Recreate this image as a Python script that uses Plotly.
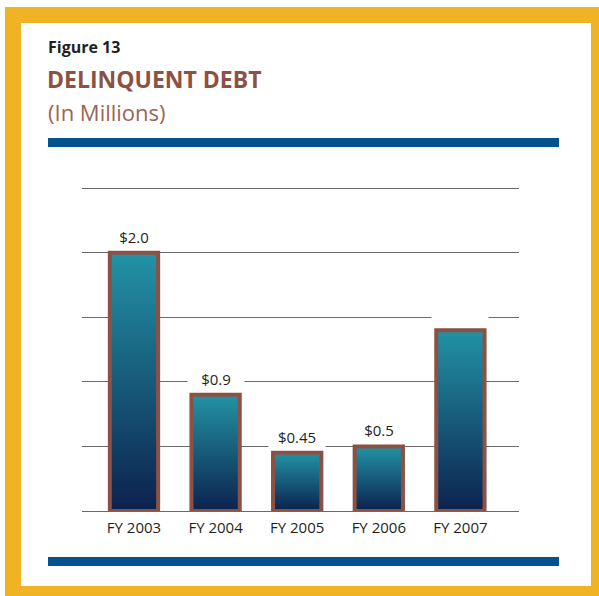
import plotly.graph_objects as go

# ---- data ----
categories = ["FY 2003", "FY 2004", "FY 2005", "FY 2006", "FY 2007"]
values = [2.0, 0.9, 0.45, 0.5, 1.4]
value_labels = ["$2.0", "$0.9", "$0.45", "$0.5", ""]
y_ticks = [0, 0.5, 1.0, 1.5, 2.0, 2.5]

# ---- layout geometry (pixels) ----
W, H = 599, 596
L, R, T, B = 82, 80, 187, 85
PW, PH = W - L - R, H - T - B
Y_TOP = 2.508


def px(x):
    return (x - L) / PW


def py(y):
    return (H - B - y) / PH


TOP_C = (35, 146, 165)
BOT_C = (12, 35, 79)
N = 60

fig = go.Figure()
xpos = list(range(len(categories)))
bar_w = 0.592

# gradient fill: overlapping bars from bottom to top, each covering [v*i/N, v]
for i in range(N):
    t = i / (N - 1)
    c = tuple(round(BOT_C[k] + (TOP_C[k] - BOT_C[k]) * t) for k in range(3))
    fig.add_trace(go.Bar(
        x=xpos,
        y=[v * (1 - i / N) for v in values],
        base=[v * i / N for v in values],
        width=bar_w,
        marker=dict(color="rgb(%d,%d,%d)" % c, line=dict(width=0)),
        hoverinfo="skip", showlegend=False,
    ))

# outline
fig.add_trace(go.Bar(
    x=xpos, y=values, width=bar_w,
    marker=dict(color="rgba(0,0,0,0)", line=dict(color="#8B5244", width=4)),
    showlegend=False,
))

# value labels with white background
for xi, v, lab in zip(xpos, values, value_labels):
    fig.add_annotation(
        x=xi, y=v, xref="x", yref="y",
        text=lab if lab else "&nbsp;",
        showarrow=False, yanchor="bottom", yshift=4,
        width=54, bgcolor="white",
        font=dict(family="Open Sans", size=15, color="#231f20"),
    )

shapes = []
# yellow frame
shapes.append(dict(type="rect", xref="paper", yref="paper",
                   x0=px(5), x1=px(605), y0=py(602), y1=py(7),
                   fillcolor="#F0B323", line=dict(width=0), layer="below"))
shapes.append(dict(type="rect", xref="paper", yref="paper",
                   x0=px(21), x1=px(591), y0=py(586), y1=py(23),
                   fillcolor="white", line=dict(width=0), layer="below"))
# blue rules
for y0, y1 in [(138, 147), (557, 566)]:
    shapes.append(dict(type="rect", xref="paper", yref="paper",
                       x0=px(48), x1=px(559), y0=py(y1), y1=py(y0),
                       fillcolor="#04538F", line=dict(width=0), layer="below"))

annotations_title = [
    dict(text="<b>Figure 13</b>", x=px(46), y=py(47), size=16, color="#231f20"),
    dict(text="<b>DELINQUENT DEBT</b>", x=px(45), y=py(79), size=23, color="#8B5244"),
    dict(text="(In Millions)", x=px(46), y=py(112), size=22, color="#9A6656"),
]
for a in annotations_title:
    fig.add_annotation(text=a["text"], x=a["x"], y=a["y"], xref="paper", yref="paper",
                       xanchor="left", yanchor="middle", showarrow=False,
                       font=dict(family="Open Sans", size=a["size"], color=a["color"]))

fig.update_layout(
    width=W, height=H,
    margin=dict(l=L, r=R, t=T, b=B, pad=0),
    paper_bgcolor="white", plot_bgcolor="rgba(0,0,0,0)",
    barmode="overlay", shapes=shapes,
    xaxis=dict(range=[-0.637, 4.718], tickvals=xpos, ticktext=categories,
               showgrid=False, zeroline=False, showline=False, ticks="",
               ticklabelstandoff=6,
               tickfont=dict(family="Open Sans", size=15, color="#231f20"),
               fixedrange=True),
    yaxis=dict(range=[0, Y_TOP], tickvals=y_ticks, showticklabels=False,
               showgrid=True, gridcolor="#6a6a6a", gridwidth=1.3,
               zeroline=True, zerolinecolor="#6a6a6a", zerolinewidth=1.3,
               showline=False, ticks="", fixedrange=True),
)

fig.write_html("out.html")
